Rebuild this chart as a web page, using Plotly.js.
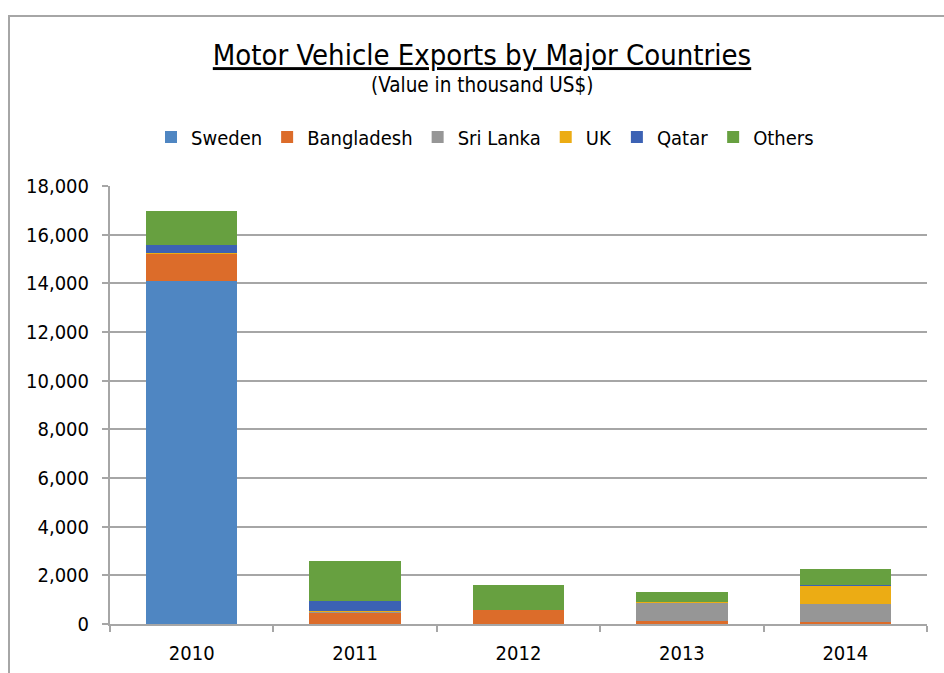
<!DOCTYPE html>
<html>
<head>
<meta charset="utf-8">
<script src="https://cdn.plot.ly/plotly-3.0.1.min.js"></script>
<style>
  html, body { margin: 0; padding: 0; background: #ffffff; overflow: hidden; }
  #frame { position: absolute; left: 8px; top: 15px; width: 1000px; height: 720px; border: 2px solid #a6a6a6; box-sizing: border-box; }
  #chart { position: absolute; left: 0; top: 0; width: 944px; height: 673px; }
</style>
</head>
<body>
<div id="frame"></div>
<div id="chart"></div>
<script>
const years = ['2010', '2011', '2012', '2013', '2014'];
const sweden     = [14100, 0, 0, 0, 0];
const bangladesh = [1110, 470, 570, 110, 100];
const sriLanka   = [0, 20, 0, 740, 740];
const uk         = [40, 30, 0, 40, 740];
const qatar      = [330, 440, 0, 0, 40];
const others     = [1400, 1610, 1030, 410, 620];

const seriesNames  = ['Sweden', 'Bangladesh', 'Sri Lanka', 'UK', 'Qatar', 'Others'];
const seriesValues = [sweden, bangladesh, sriLanka, uk, qatar, others];
const seriesColors = ['#4f86c2', '#dc6c2a', '#969696', '#ecac14', '#3c62b4', '#67a040'];

const FONT = '"DejaVu Sans Condensed", "DejaVu Sans", sans-serif';

const traces = seriesNames.map((name, i) => ({
  type: 'bar',
  name: name,
  x: years,
  y: seriesValues[i],
  marker: { color: seriesColors[i], line: { width: 0 } },
  hoverinfo: 'x+y+name'
}));

const layout = {
  width: 944,
  height: 673,
  barmode: 'stack',
  bargap: 0.44,
  paper_bgcolor: 'rgba(0,0,0,0)',
  plot_bgcolor: 'rgba(0,0,0,0)',
  margin: { l: 110, r: 17, t: 186, b: 49, pad: 0, autoexpand: false },
  font: { family: FONT, size: 20, color: '#000000' },
  title: {
    text: '<u>Motor Vehicle Exports by Major Countries</u>',
    font: { family: FONT, size: 29, color: '#000000' },
    x: 482 / 944, xref: 'container', xanchor: 'center',
    y: 1 - 55 / 673, yref: 'container', yanchor: 'middle'
  },
  annotations: [{
    text: '(Value in thousand US$)',
    xref: 'paper', yref: 'paper',
    x: (482 - 110) / 817, y: 1 + (186 - 85) / 438,
    xanchor: 'center', yanchor: 'middle',
    showarrow: false,
    font: { family: FONT, size: 20.5, color: '#000000' }
  }],
  legend: {
    orientation: 'h',
    x: (485 - 110) / 817, xanchor: 'center',
    y: 1 + (186 - 137) / 438, yanchor: 'middle',
    font: { family: FONT, size: 20, color: '#000000' },
    traceorder: 'normal',
    itemwidth: 30
  },
  xaxis: {
    type: 'category',
    showline: true, linecolor: '#a6a6a6', linewidth: 2,
    ticks: 'outside', tickson: 'boundaries', ticklen: 6, tickcolor: '#a6a6a6', tickwidth: 2,
    ticklabelstandoff: 10,
    showgrid: false,
    tickfont: { family: FONT, size: 20, color: '#000000' }
  },
  yaxis: {
    range: [0, 18000],
    dtick: 2000,
    tickformat: ',d',
    showline: true, linecolor: '#a6a6a6', linewidth: 2,
    ticks: 'outside', ticklen: 6, tickcolor: '#a6a6a6', tickwidth: 2,
    ticklabelstandoff: 9,
    showgrid: true, gridcolor: '#a6a6a6', gridwidth: 2,
    zeroline: false,
    tickfont: { family: FONT, size: 20, color: '#000000' }
  },
  showlegend: true
};

Plotly.newPlot('chart', traces, layout, { displayModeBar: false, staticPlot: true });
</script>
</body>
</html>
